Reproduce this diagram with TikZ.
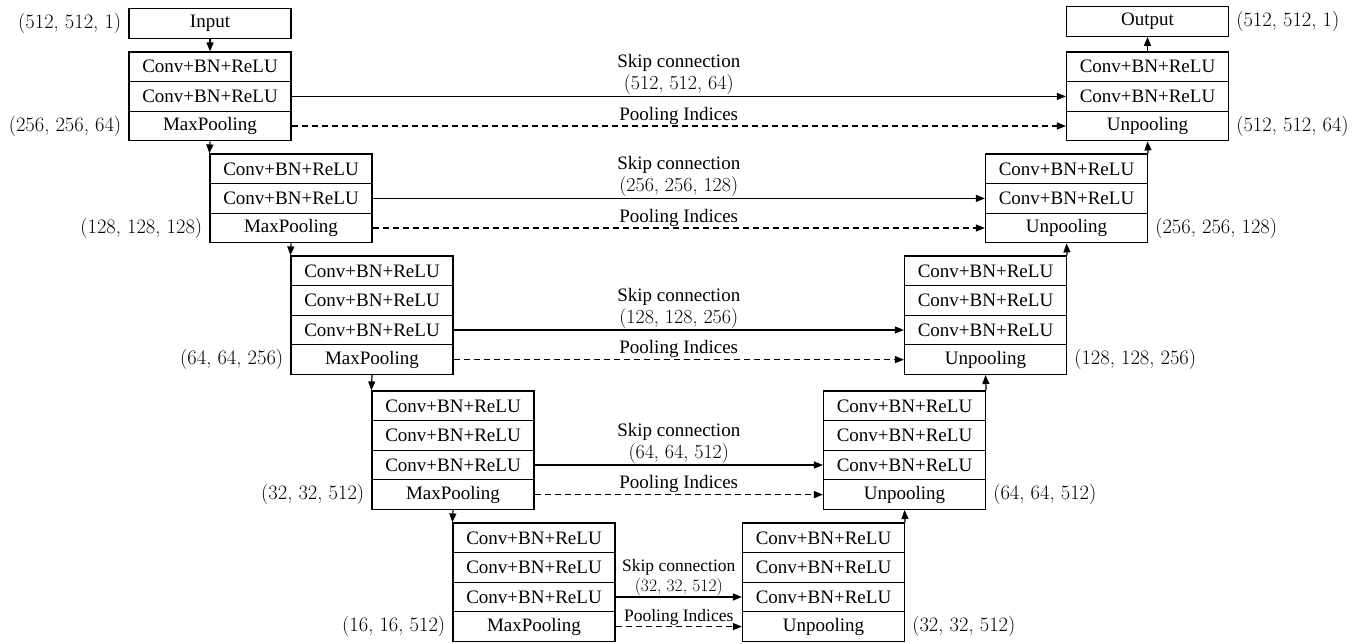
\documentclass[tikz,border=0pt]{standalone}
\usepackage{fontspec}
\setmainfont{Liberation Serif}
\usetikzlibrary{arrows.meta}
\newcommand{\dimfont}{\fontfamily{lmr}\selectfont}
\newcommand{\skipdim}[1]{{\fontsize{20}{22}\dimfont #1}}
\begin{document}
\begin{tikzpicture}[x=1pt,y=-1pt,
  cell/.style={draw, line width=1.2pt, fill=white, minimum width=162pt, minimum height=29.6pt, inner sep=0pt, font=\fontsize{19}{22}\selectfont},
  arr/.style={-{Triangle[length=9pt,width=7pt]}, line width=1.2pt},
  dashline/.style={dash pattern=on 6pt off 4pt},
  dim/.style={font=\fontsize{20.5}{23}\dimfont, inner sep=0pt},
  lab/.style={font=\fontsize{19}{22}\selectfont, align=center, inner sep=1pt, anchor=south},
  labsmall/.style={font=\fontsize{17.5}{20}\selectfont, align=center, inner sep=1pt, anchor=south}]
\useasboundingbox (0,0) rectangle (1364,643);

% encoder
\node[cell] (in)  at (210,23.5) {Input};
\node[cell] (e11) at (210,66.8) {Conv+BN+ReLU};
\node[cell] (e12) at (210,96.4) {Conv+BN+ReLU};
\node[cell] (e13) at (210,126) {MaxPooling};

\node[cell] (e21) at (291,168.8) {Conv+BN+ReLU};
\node[cell] (e22) at (291,198.4) {Conv+BN+ReLU};
\node[cell] (e23) at (291,228) {MaxPooling};

\node[cell] (e31) at (372,270.8) {Conv+BN+ReLU};
\node[cell] (e32) at (372,300.4) {Conv+BN+ReLU};
\node[cell] (e33) at (372,330) {Conv+BN+ReLU};
\node[cell] (e34) at (372,359.6) {MaxPooling};

\node[cell] (e41) at (453,405.8) {Conv+BN+ReLU};
\node[cell] (e42) at (453,435.4) {Conv+BN+ReLU};
\node[cell] (e43) at (453,465) {Conv+BN+ReLU};
\node[cell] (e44) at (453,494.6) {MaxPooling};

\node[cell] (e51) at (534,537.8) {Conv+BN+ReLU};
\node[cell] (e52) at (534,567.4) {Conv+BN+ReLU};
\node[cell] (e53) at (534,597) {Conv+BN+ReLU};
\node[cell] (e54) at (534,626.6) {MaxPooling};

% decoder
\node[cell] (out) at (1147.5,21.5) {Output};
\node[cell] (d11) at (1147.5,66.8) {Conv+BN+ReLU};
\node[cell] (d12) at (1147.5,96.4) {Conv+BN+ReLU};
\node[cell] (d13) at (1147.5,126) {Unpooling};

\node[cell] (d21) at (1066.5,168.8) {Conv+BN+ReLU};
\node[cell] (d22) at (1066.5,198.4) {Conv+BN+ReLU};
\node[cell] (d23) at (1066.5,228) {Unpooling};

\node[cell] (d31) at (985.5,270.8) {Conv+BN+ReLU};
\node[cell] (d32) at (985.5,300.4) {Conv+BN+ReLU};
\node[cell] (d33) at (985.5,330) {Conv+BN+ReLU};
\node[cell] (d34) at (985.5,359.6) {Unpooling};

\node[cell] (d41) at (904.5,405.8) {Conv+BN+ReLU};
\node[cell] (d42) at (904.5,435.4) {Conv+BN+ReLU};
\node[cell] (d43) at (904.5,465) {Conv+BN+ReLU};
\node[cell] (d44) at (904.5,494.6) {Unpooling};

\node[cell] (d51) at (823.5,537.8) {Conv+BN+ReLU};
\node[cell] (d52) at (823.5,567.4) {Conv+BN+ReLU};
\node[cell] (d53) at (823.5,597) {Conv+BN+ReLU};
\node[cell] (d54) at (823.5,626.6) {Unpooling};

% vertical arrows
\draw[arr] (in.south) -- (e11.north);
\draw[arr] (e13.south) -- (e21.north west);
\draw[arr] (e23.south) -- (e31.north west);
\draw[arr] (e34.south) -- (e41.north west);
\draw[arr] (e44.south) -- (e51.north west);
\draw[arr] (d51.north east) -- (d44.south);
\draw[arr] (d41.north east) -- (d34.south);
\draw[arr] (d31.north east) -- (d23.south);
\draw[arr] (d21.north east) -- (d13.south);
\draw[arr] (d11.north) -- (out.south);

% skip connections
\draw[arr] (e12.east) -- node[lab, midway] (s1) {Skip connection\\\skipdim{(512, 512, 64)}} (d12.west);
\draw[arr] (e22.east) -- node[lab, midway] (s2) {Skip connection\\\skipdim{(256, 256, 128)}} (d22.west);
\draw[arr] (e33.east) -- node[lab, midway] (s3) {Skip connection\\\skipdim{(128, 128, 256)}} (d33.west);
\draw[arr] (e43.east) -- node[lab, midway] (s4) {Skip connection\\\skipdim{(64, 64, 512)}} (d43.west);
\draw[arr] (e53.east) -- node[labsmall, midway] (s5) {Skip connection\\{\dimfont (32, 32, 512)}} (d53.west);

% pooling indices
\draw[arr, dashline] (e13.east) -- node[lab, midway] (p1) {Pooling Indices} (d13.west);
\draw[arr, dashline] (e23.east) -- node[lab, midway] (p2) {Pooling Indices} (d23.west);
\draw[arr, dashline] (e34.east) -- node[lab, midway] (p3) {Pooling Indices} (d34.west);
\draw[arr, dashline] (e44.east) -- node[lab, midway] (p4) {Pooling Indices} (d44.west);
\draw[arr, dashline] (e54.east) -- node[labsmall, midway] (p5) {Pooling Indices} (d54.west);

% dimension labels
\node[dim, anchor=east] (l0) at ([xshift=-7pt]in.west) {(512, 512, 1)};
\node[dim, anchor=east] (l1) at ([xshift=-7pt]e13.west) {(256, 256, 64)};
\node[dim, anchor=east] (l2) at ([xshift=-7pt]e23.west) {(128, 128, 128)};
\node[dim, anchor=east] (l3) at ([xshift=-7pt]e34.west) {(64, 64, 256)};
\node[dim, anchor=east] (l4) at ([xshift=-7pt]e44.west) {(32, 32, 512)};
\node[dim, anchor=east] (l5) at ([xshift=-7pt]e54.west) {(16, 16, 512)};

\node[dim, anchor=west] (r0) at ([xshift=7pt]out.east) {(512, 512, 1)};
\node[dim, anchor=west] (r1) at ([xshift=7pt]d13.east) {(512, 512, 64)};
\node[dim, anchor=west] (r2) at ([xshift=7pt]d23.east) {(256, 256, 128)};
\node[dim, anchor=west] (r3) at ([xshift=7pt]d34.east) {(128, 128, 256)};
\node[dim, anchor=west] (r4) at ([xshift=7pt]d44.east) {(64, 64, 512)};
\node[dim, anchor=west] (r5) at ([xshift=7pt]d54.east) {(32, 32, 512)};
\end{tikzpicture}
\end{document}
